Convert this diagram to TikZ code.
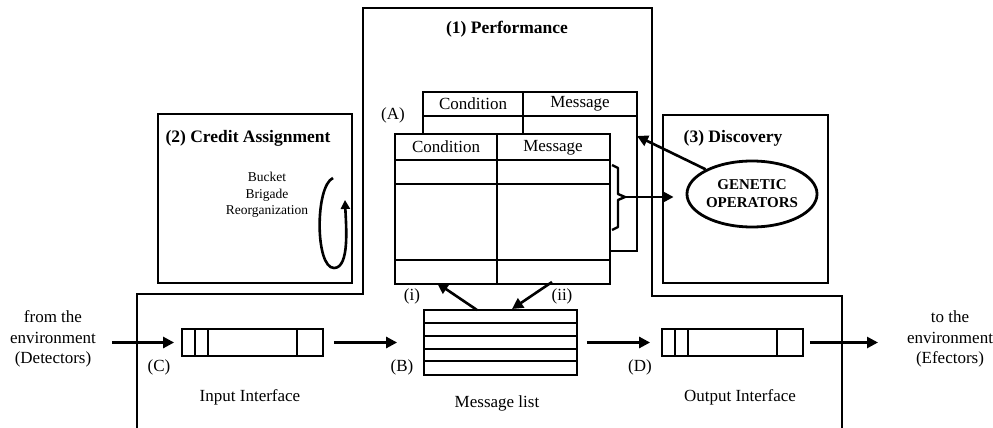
\documentclass[tikz,border=0pt]{standalone}
\usepackage{fontspec}
\setmainfont{Liberation Serif}
\usetikzlibrary{arrows.meta,shapes.geometric,calc}
\begin{document}
\begin{tikzpicture}[x=1pt,y=-1pt,
  thinl/.style={line width=1.8pt},
  thickl/.style={line width=2.8pt},
  arr/.style={line width=2.6pt,-{Triangle[length=11pt,width=11pt]}},
  lbl/.style={font=\fontsize{17}{20.5}\selectfont, inner sep=0pt, align=center},
  ttl/.style={font=\fontsize{17.5}{20}\selectfont\bfseries, inner sep=0pt},
  smalltxt/.style={font=\fontsize{13.5}{16.5}\selectfont, inner sep=0pt, align=center},
  boxn/.style={draw, thinl, inner sep=0pt},
]
\useasboundingbox (0,0) rectangle (993,428);

% Performance outline
\draw[thickl, line join=miter] (137,428) -- (137,294) -- (363,294) -- (363,8) -- (652,8) -- (652,296) -- (842,296) -- (842,428);
\node[ttl] (perft) at (507,29) {(1) Performance};

% Credit assignment
\node[boxn, minimum width=194pt, minimum height=169pt] (cred) at (255,198.5) {};
\node[ttl] (credt) at (248,138) {(2) Credit Assignment};
\node[smalltxt] (bucket) at (267,195) {Bucket\\Brigade\\Reorganization};
\draw[line width=2.6pt, -{Triangle[length=9pt,width=9pt]}] (333,178) .. controls (315,186) and (315,268) .. (334,268) .. controls (350,268) and (346,225) .. (345,200);

% Discovery
\node[boxn, minimum width=165pt, minimum height=168pt] (disc) at (745.5,199) {};
\node[ttl] (disct) at (733,138) {(3) Discovery};
\node[draw, ellipse, thickl, minimum width=115pt, minimum height=66pt, inner sep=0pt, align=center,
      font=\fontsize{15}{18}\selectfont\bfseries] (gen) at (752,194) {GENETIC\\OPERATORS};

% Back table (A)
\draw[thinl] (423,92) rectangle (637,251);
\draw[thinl] (423,116) -- (637,116);
\draw[thinl] (523,92) -- (523,251);
\node[lbl] (bcond) at (473,104) {Condition};
\node[lbl] (bmsg) at (580,104) {Message};
\node[lbl] (A) at (393,115) {(A)};

% Front table
\filldraw[fill=white, thickl] (395,134) rectangle (610,284);
\draw[thickl] (395,160) -- (610,160);
\draw[thickl] (395,184) -- (610,184);
\draw[thickl] (395,260) -- (610,260);
\draw[thickl] (497,134) -- (497,284);
\node[lbl] (fcond) at (446,147) {Condition};
\node[lbl] (fmsg) at (553,148) {Message};

% Brace and arrows to/from genetic operators
\draw[line width=2.4pt, line join=round] (612,165) -- (618,168) -- (618,194) -- (625,197) -- (618,200) -- (618,227) -- (612,230);
\coordinate (bt) at (625,197);
\draw[arr, shorten >=12pt] (bt) -- (bt -| gen.west);
\coordinate (backtip) at (637,136);
\draw[arr] (gen.152) -- (backtip);

% Message list
\node[boxn, minimum width=153pt, minimum height=65pt] (ml) at (500.5,342.5) {};
\foreach \yy in {323,336,349,361} \draw[thinl] (424,\yy) -- (577,\yy);
\node[lbl] (mlt) at (497,403) {Message list};
\coordinate (ia) at (477,310);
\coordinate (ib) at (437,283);
\draw[arr] (ia) -- (ib);
\coordinate (iia) at (552,282);
\coordinate (iib) at (512,309);
\draw[arr] (iia) -- (iib);
\node[lbl] (il) at (412,296) {(i)};
\node[lbl] (iil) at (562,296) {(ii)};

% Input interface
\node[boxn, minimum width=141pt, minimum height=27pt] (inp) at (252.5,342.5) {};
\foreach \xx in {195,208,297} \draw[thinl] (\xx,329) -- (\xx,356);
\node[lbl] (inpt) at (250,397) {Input Interface};
\node[lbl] (C) at (159,367) {(C)};
\node[lbl] (B) at (402,367) {(B)};

% Output interface
\node[boxn, minimum width=141pt, minimum height=27pt] (out) at (732.5,342.5) {};
\foreach \xx in {675,688,777} \draw[thinl] (\xx,329) -- (\xx,356);
\node[lbl] (outt) at (740,397) {Output Interface};
\node[lbl] (D) at (640,367) {(D)};

% Environment
\node[lbl] (envin) at (53,339) {from the\\environment\\(Detectors)};
\node[lbl] (envout) at (950,339) {to the\\environment\\(Efectors)};
\coordinate (cin) at (112,342.5);
\coordinate (cout) at (878,342.5);
\draw[arr, shorten >=7pt] (cin) -- (inp.west);
\draw[arr, shorten <=10pt, shorten >=26pt] (inp.east) -- (ml.west);
\draw[arr, shorten <=9pt, shorten >=11pt] (ml.east) -- (out.west);
\draw[arr, shorten <=6pt] (out.east) -- (cout);
\end{tikzpicture}
\end{document}
